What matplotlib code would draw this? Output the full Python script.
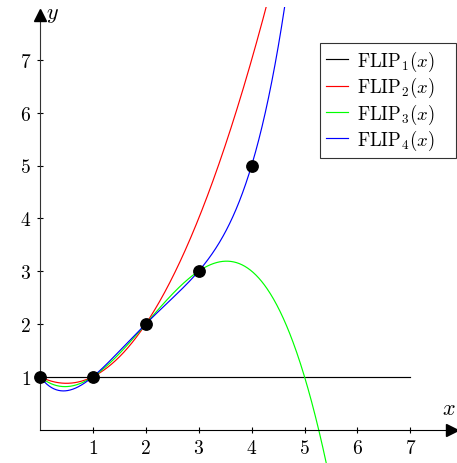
import numpy as np
import matplotlib
matplotlib.use("Agg")
import matplotlib.pyplot as plt

plt.rcParams['mathtext.fontset'] = 'cm'
plt.rcParams['font.family'] = 'serif'
plt.rcParams['font.serif'] = ['DejaVu Serif']

# Interpolation nodes (the dots)
node_x = [0, 1, 2, 3, 4]
node_y = [1, 1, 2, 3, 5]
series_labels = [r'$\mathrm{FLIP}_1(x)$', r'$\mathrm{FLIP}_2(x)$',
                 r'$\mathrm{FLIP}_3(x)$', r'$\mathrm{FLIP}_4(x)$']
series_colors = ['black', 'red', '#00ff00', 'blue']
x_ticks = [1, 2, 3, 4, 5, 6, 7]
y_ticks = [1, 2, 3, 4, 5, 6, 7]

W, H = 457, 464
fig = plt.figure(figsize=(W/100, H/100), dpi=100)
ax = fig.add_axes([40/W, 0, 1-40/W, 1-8.1/H])
ax.set_xlim(0, (W-40)/52.9)
ax.set_ylim(-(H-430.5)/52.8, 8.0)

xs = np.linspace(0, 7, 800)
for k in range(4):
    n = k + 2  # FLIP_k interpolates the first k+1 nodes
    coef = np.polyfit(node_x[:n], node_y[:n], n-1)
    ys = np.polyval(coef, xs)
    ax.plot(xs, ys, color=series_colors[k], lw=0.85, label=series_labels[k])

ax.plot(node_x, node_y, 'o', color='black', ms=8.2, zorder=5, clip_on=False)

for s in ['top', 'right']:
    ax.spines[s].set_visible(False)
ax.spines['left'].set_position(('data', 0))
ax.spines['bottom'].set_position(('data', 0))
ax.spines['left'].set_bounds(0, 7.85)
ax.spines['bottom'].set_bounds(0, 7.75)
ax.spines['left'].set_linewidth(0.8)
ax.spines['bottom'].set_linewidth(0.8)
ax.spines['left'].set_color('#333333')

ax.set_xticks(x_ticks)
ax.set_yticks(y_ticks)
ax.set_xticklabels([f'${t}$' for t in x_ticks], fontsize=14)
ax.set_yticklabels([f'${t}$' for t in y_ticks], fontsize=14)
ax.tick_params(direction='inout', length=5, width=0.8, pad=4)

# arrows
ax.plot([(W-40)/52.9 - 0.1], [0], marker='>', color='black', ms=8, clip_on=False, zorder=6)
ax.plot([0], [7.85], marker='^', color='black', ms=9, clip_on=False, zorder=6)
ax.text(7.72, 0.2, r'$x$', fontsize=16, ha='center', va='bottom')
ax.text(0.12, 7.88, r'$y$', fontsize=16, ha='left', va='center')

leg = ax.legend(loc='upper left', bbox_to_anchor=(320/W, 1-44/H - 0.2, 136/W, 0.2),
                bbox_transform=fig.transFigure, mode='expand', fontsize=13.5,
                frameon=True, fancybox=False, edgecolor='black',
                handlelength=1.2, handletextpad=0.45, labelspacing=0.12,
                borderpad=0.3, borderaxespad=0)
leg.get_frame().set_linewidth(0.8)

fig.savefig('out.png', dpi=100)
